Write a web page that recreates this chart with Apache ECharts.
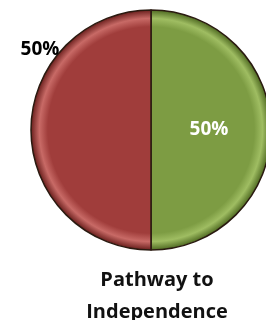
<!DOCTYPE html>
<html>
<head>
<meta charset="utf-8">
<script src="https://cdn.jsdelivr.net/npm/echarts@6/dist/echarts.min.js"></script>
<style>
  html, body { margin: 0; padding: 0; background: #fff; }
  #chart { width: 266px; height: 320px; }
</style>
</head>
<body>
<div id="chart"></div>
<script>
// slice names, values and colours
const names = ['Independent', 'Not independent']
const values = [50, 50]
const baseColors = ['#7d9c43', '#a03d3b']
const rimLight = ['#9fbd62', '#c86a66']
const rimDark = ['#4f6a22', '#6a1f1d']
const labelColors = ['#fff', '#000']

const cx = 151
const cy = 130
const R = 120

function sliceFill (i) {
  return {
    type: 'radial', x: cx, y: cy, r: R, global: true,
    colorStops: [
      {offset: 0, color: baseColors[i]},
      {offset: 0.86, color: baseColors[i]},
      {offset: 0.93, color: rimLight[i]},
      {offset: 1, color: rimDark[i]}
    ]
  }
}

let chart = echarts.init(document.getElementById('chart'))
chart.setOption({
  animation: false,
  title: {
    text: 'Pathway to\nIndependence',
    left: 152,
    textAlign: 'center',
    top: 259,
    textStyle: {
      fontFamily: 'Open Sans',
      fontWeight: 'bold',
      fontSize: 20,
      lineHeight: 32,
      color: '#111'
    }
  },
  series: [{
    type: 'pie',
    center: [cx, cy],
    radius: R,
    startAngle: 90,
    clockwise: true,
    avoidLabelOverlap: false,
    labelLine: {show: false},
    itemStyle: {borderColor: '#2a1a10', borderWidth: 1.5},
    label: {
      show: true,
      position: 'inside',
      formatter: '{d}%',
      fontFamily: 'Open Sans',
      fontWeight: 'bold',
      fontSize: 19
    },
    labelLayout: function (params) {
      if (params.dataIndex === 1) {
        return {x: 40, y: 50, align: 'center', verticalAlign: 'middle'}
      }
      return {x: 209, y: 130, align: 'center', verticalAlign: 'middle'}
    },
    data: values.map(function (v, i) {
      return {
        name: names[i],
        value: v,
        itemStyle: {color: sliceFill(i)},
        label: {color: labelColors[i]}
      }
    })
  }]
})
</script>
</body>
</html>
